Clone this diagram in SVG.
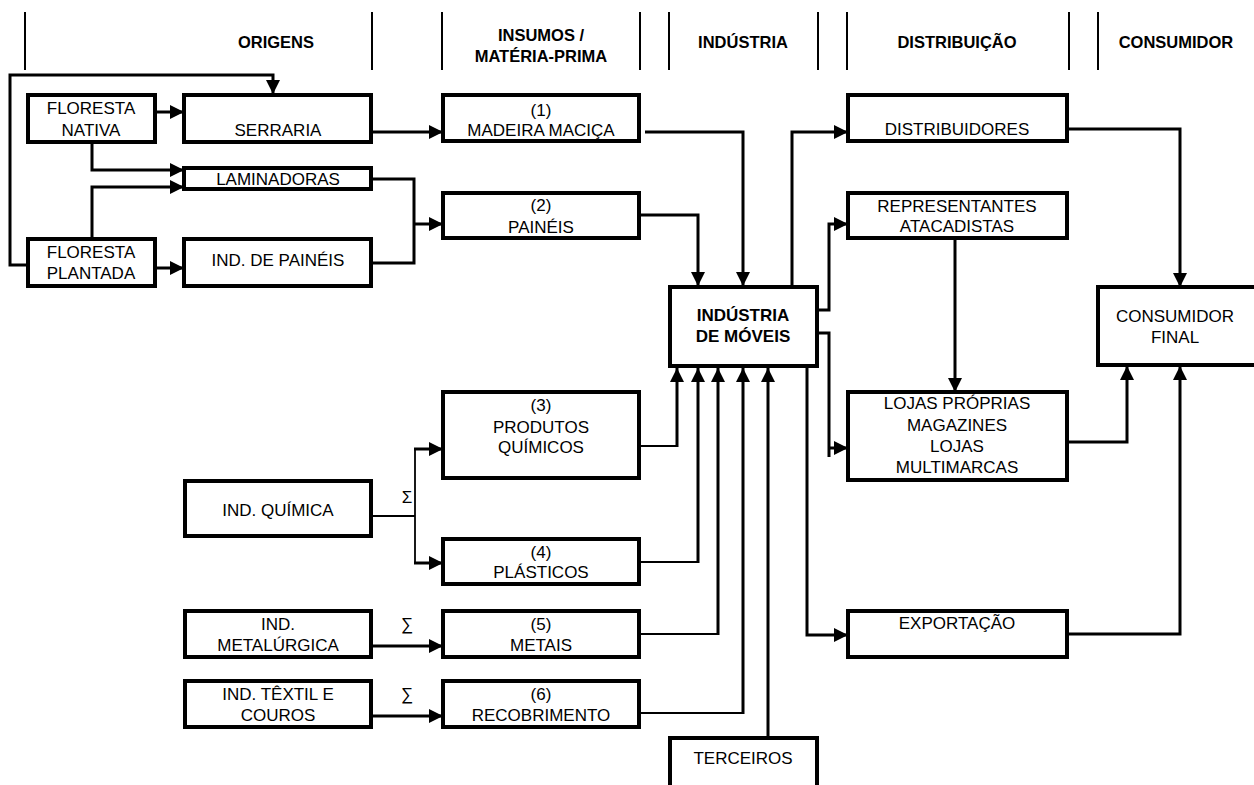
<svg xmlns="http://www.w3.org/2000/svg" width="1254" height="785" viewBox="0 0 1254 785">
  <defs>
    <style>
      .box { fill: #ffffff; stroke: #000000; stroke-width: 4; }
      .t { font-family: "Liberation Sans", Arial, sans-serif; font-size: 17px; fill: #000000; text-anchor: middle; }
      .b { font-family: "Liberation Sans", Arial, sans-serif; font-size: 16.5px; font-weight: bold; fill: #000000; text-anchor: middle; }
      .hdr line { stroke: #000000; stroke-width: 2; }
      .c { fill: none; stroke: #000000; stroke-width: 3; stroke-linejoin: miter; }
      .thin { fill: none; stroke: #000000; stroke-width: 1.8; }
      .arr { marker-end: url(#ah); }
    </style>
    <marker id="ah" markerUnits="userSpaceOnUse" markerWidth="14" markerHeight="14" viewBox="0 0 14 14" refX="14" refY="7" orient="auto">
      <path d="M0,0 L14,7 L0,14 Z" fill="#000000"/>
    </marker>
  </defs>
  <rect width="1254" height="785" fill="#ffffff"/>

  <!-- column header -->
  <g id="header" class="hdr">
    <line x1="25" y1="12" x2="25" y2="70"/>
    <line x1="372" y1="12" x2="372" y2="70"/>
    <line x1="442" y1="12" x2="442" y2="70"/>
    <line x1="640" y1="12" x2="640" y2="70"/>
    <line x1="669" y1="12" x2="669" y2="70"/>
    <line x1="818" y1="12" x2="818" y2="70"/>
    <line x1="847" y1="12" x2="847" y2="70"/>
    <line x1="1069" y1="12" x2="1069" y2="70"/>
    <line x1="1098" y1="12" x2="1098" y2="70"/>
    <text class="b" x="276" y="48">ORIGENS</text>
    <text class="b" x="541" y="41">INSUMOS /</text>
    <text class="b" x="541" y="62">MATÉRIA-PRIMA</text>
    <text class="b" x="743" y="48">INDÚSTRIA</text>
    <text class="b" x="957" y="48">DISTRIBUIÇÃO</text>
    <text class="b" x="1176" y="48">CONSUMIDOR</text>
  </g>

  <!-- connectors -->
  <g id="connectors">
    <path class="c arr" d="M26,265 H10 V75 H273 V94"/>
    <path class="c arr" d="M156,112 H184"/>
    <path class="c arr" d="M92,143 V170 H184"/>
    <path class="c arr" d="M92,238 V187 H184"/>
    <path class="c arr" d="M156,268 H184"/>
    <path class="c arr" d="M372,132 H443"/>
    <path class="c" d="M372,179 H414 V263 H372"/>
    <path class="c arr" d="M414,224 H443"/>
    <path class="c arr" d="M645,132 H743 V286"/>
    <path class="c arr" d="M637,215 H698 V286"/>
    <path class="c arr" d="M792,286 V132 H848"/>
    <path class="c arr" d="M818,310 H829 V224 H848"/>
    <path class="c" d="M818,333 H829 V457"/>
    <path class="c arr" d="M829,448 H848"/>
    <path class="c arr" d="M807,366 V635 H848"/>
    <path class="c arr" d="M955,239 V392"/>
    <path class="c arr" d="M1068,129 H1180 V287"/>
    <path class="c arr" d="M1068,442 H1127 V366"/>
    <path class="c arr" d="M1068,634 H1180 V366"/>
    <path class="thin" d="M372,516 H415"/>
    <path class="thin" d="M415,449 V563"/>
    <path class="c arr" d="M414,449 H443"/>
    <path class="c arr" d="M414,563 H443"/>
    <path class="thin" d="M637,446 H677"/>
    <path class="c arr" d="M677,447 V368"/>
    <path class="thin" d="M637,562 H698"/>
    <path class="c arr" d="M698,563 V368"/>
    <path class="thin" d="M637,634 H718"/>
    <path class="c arr" d="M718,635 V368"/>
    <path class="thin" d="M637,713 H743"/>
    <path class="c arr" d="M743,714 V368"/>
    <path class="c arr" d="M768,738 V368"/>
    <path class="c arr" d="M372,646 H443"/>
    <path class="c arr" d="M372,716 H443"/>
  </g>

  <g id="floresta-nativa">
    <rect class="box" x="28" y="95" width="127" height="47"/>
    <text class="t" x="91" y="114">FLORESTA</text>
    <text class="t" x="91" y="136">NATIVA</text>
  </g>
  <g id="serraria">
    <rect class="box" x="184" y="95" width="187" height="47"/>
    <text class="t" x="278" y="136">SERRARIA</text>
  </g>
  <g id="laminadoras">
    <rect class="box" x="184" y="168" width="187" height="21"/>
    <text class="t" x="278" y="185">LAMINADORAS</text>
  </g>
  <g id="floresta-plantada">
    <rect class="box" x="28" y="239" width="127" height="47"/>
    <text class="t" x="91" y="258">FLORESTA</text>
    <text class="t" x="91" y="279">PLANTADA</text>
  </g>
  <g id="ind-paineis">
    <rect class="box" x="184" y="239" width="187" height="47"/>
    <text class="t" x="278" y="266">IND. DE PAINÉIS</text>
  </g>
  <g id="madeira-macica">
    <rect class="box" x="443" y="95" width="196" height="46"/>
    <text class="t" x="541" y="116">(1)</text>
    <text class="t" x="541" y="136">MADEIRA MACIÇA</text>
  </g>
  <g id="paineis">
    <rect class="box" x="443" y="193" width="196" height="45"/>
    <text class="t" x="541" y="211">(2)</text>
    <text class="t" x="541" y="233">PAINÉIS</text>
  </g>
  <g id="industria-moveis">
    <rect class="box" x="670" y="287" width="147" height="79"/>
    <text class="b" x="743" y="321" style="font-size:17px">INDÚSTRIA</text>
    <text class="b" x="743" y="342" style="font-size:17px">DE MÓVEIS</text>
  </g>
  <g id="distribuidores">
    <rect class="box" x="848" y="95" width="219" height="46"/>
    <text class="t" x="957" y="135">DISTRIBUIDORES</text>
  </g>
  <g id="representantes">
    <rect class="box" x="848" y="193" width="219" height="45"/>
    <text class="t" x="957" y="212">REPRESENTANTES</text>
    <text class="t" x="957" y="232">ATACADISTAS</text>
  </g>
  <g id="consumidor-final">
    <rect class="box" x="1098" y="287" width="170" height="78"/>
    <text class="t" x="1175" y="322">CONSUMIDOR</text>
    <text class="t" x="1175" y="343">FINAL</text>
  </g>
  <g id="lojas">
    <rect class="box" x="848" y="392" width="219" height="88"/>
    <text class="t" x="957" y="409">LOJAS PRÓPRIAS</text>
    <text class="t" x="957" y="431">MAGAZINES</text>
    <text class="t" x="957" y="452">LOJAS</text>
    <text class="t" x="957" y="473">MULTIMARCAS</text>
  </g>
  <g id="exportacao">
    <rect class="box" x="848" y="611" width="219" height="46"/>
    <text class="t" x="957" y="629">EXPORTAÇÃO</text>
  </g>
  <g id="produtos-quimicos">
    <rect class="box" x="443" y="392" width="196" height="86"/>
    <text class="t" x="541" y="411">(3)</text>
    <text class="t" x="541" y="433">PRODUTOS</text>
    <text class="t" x="541" y="453">QUÍMICOS</text>
  </g>
  <g id="ind-quimica">
    <rect class="box" x="185" y="481" width="186" height="55"/>
    <text class="t" x="278" y="516">IND. QUÍMICA</text>
    <text class="t" x="407" y="503">Σ</text>
  </g>
  <g id="plasticos">
    <rect class="box" x="443" y="539" width="196" height="45"/>
    <text class="t" x="541" y="558">(4)</text>
    <text class="t" x="541" y="578">PLÁSTICOS</text>
  </g>
  <g id="ind-metalurgica">
    <rect class="box" x="185" y="611" width="186" height="46"/>
    <text class="t" x="278" y="630">IND.</text>
    <text class="t" x="278" y="651">METALÚRGICA</text>
    <text class="t" x="407" y="630">∑</text>
  </g>
  <g id="metais">
    <rect class="box" x="443" y="611" width="196" height="46"/>
    <text class="t" x="541" y="630">(5)</text>
    <text class="t" x="541" y="651">METAIS</text>
  </g>
  <g id="ind-textil">
    <rect class="box" x="185" y="681" width="186" height="46"/>
    <text class="t" x="278" y="700">IND. TÊXTIL E</text>
    <text class="t" x="278" y="721">COUROS</text>
    <text class="t" x="407" y="700">∑</text>
  </g>
  <g id="recobrimento">
    <rect class="box" x="443" y="681" width="196" height="46"/>
    <text class="t" x="541" y="700">(6)</text>
    <text class="t" x="541" y="721">RECOBRIMENTO</text>
  </g>
  <g id="terceiros">
    <rect class="box" x="670" y="738" width="147" height="60"/>
    <text class="t" x="743" y="764">TERCEIROS</text>
  </g>
</svg>
